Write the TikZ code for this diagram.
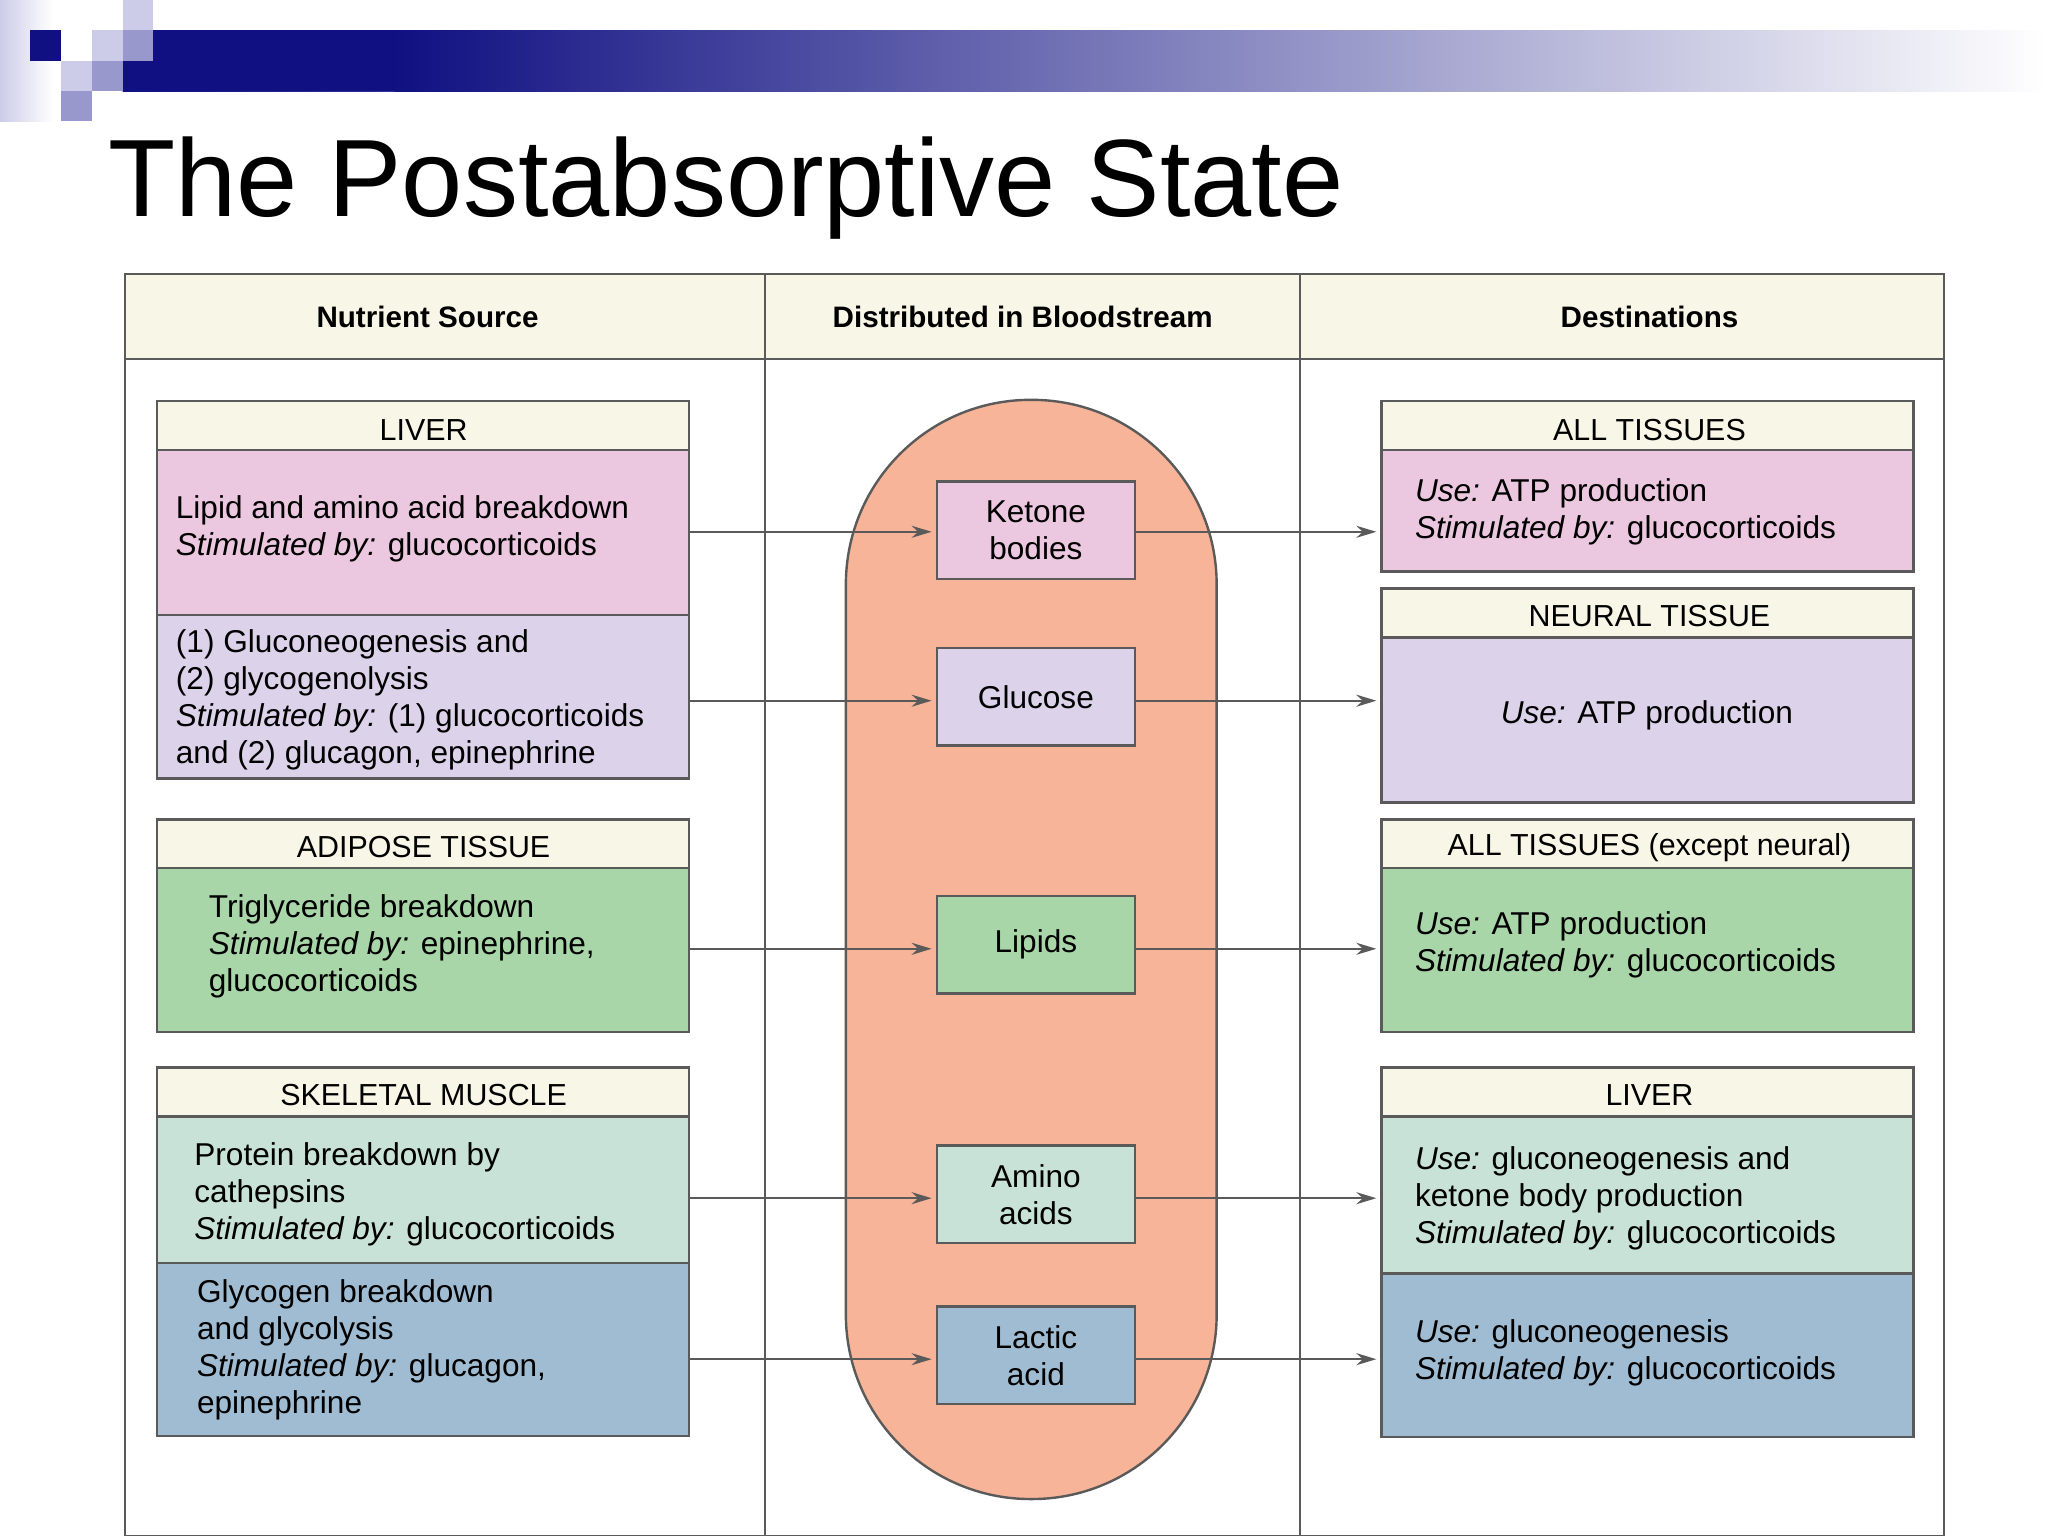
\documentclass[tikz,border=0pt]{standalone}
\usepackage{fontspec}
\setmainfont{Liberation Sans}
\usetikzlibrary{arrows.meta}
\definecolor{navy}{RGB}{16,16,130}
\definecolor{lmed}{RGB}{152,152,204}
\definecolor{llight}{RGB}{204,204,232}
\definecolor{cream}{RGB}{248,246,230}
\definecolor{cpink}{RGB}{236,200,224}
\definecolor{cpurp}{RGB}{220,210,234}
\definecolor{cgreen}{RGB}{168,214,168}
\definecolor{cmint}{RGB}{200,226,216}
\definecolor{cblue}{RGB}{160,188,210}
\definecolor{salmon}{RGB}{248,180,152}
\definecolor{edge}{RGB}{90,90,90}
\begin{document}
\begin{tikzpicture}[x=0.6598pt,y=-0.6598pt,
  bx/.style={draw=edge,line width=1.2pt},
  body/.style={font=\fontsize{15.8}{18.5}\selectfont,align=left,inner sep=0pt},
  hd/.style={font=\fontsize{15.2}{18}\selectfont,inner sep=0pt},
  colhd/.style={font=\bfseries\fontsize{14.8}{18}\selectfont,inner sep=0pt},
  arr/.style={draw=edge,line width=1pt,-{Stealth[length=10pt,width=6pt]}}]
\useasboundingbox (0,0) rectangle (1552,1164);
\fill[white] (0,0) rectangle (1552,1164);
% banner
\shade[left color=llight,right color=white] (0,0) rectangle (40,92);
\shade[left color=navy,right color=white] (93,23) rectangle (1552,69);
\fill[navy] (93,23) rectangle (300,69);
\shade[left color=navy,right color=white!0!navy!60!white] (300,23) rectangle (301,69);
\shade[left color=navy,right color=white] (299,23) rectangle (1552,69);
\fill[navy] (23,23) rectangle (46,46);
\fill[llight] (93,0) rectangle (116,23);
\fill[llight] (70,23) rectangle (93,46);
\fill[lmed] (93,23) rectangle (116,46);
\fill[llight] (46,46) rectangle (70,69);
\fill[lmed] (70,46) rectangle (93,69);
\fill[lmed] (46,69) rectangle (70,92);
\node[anchor=base west,inner sep=0pt,font=\fontsize{55}{60}\selectfont] (title) at (82,164) {The Postabsorptive State};
% table
\fill[cream] (95,208) rectangle (1473,272);
\draw[edge,line width=1pt] (95,208) rectangle (1473,1164);
\draw[edge,line width=1pt] (95,272) -- (1473,272);
\draw[edge,line width=1pt] (580,208) -- (580,1164);
\draw[edge,line width=1pt] (985,208) -- (985,1164);
\node[colhd] (h1) at (324,240) {Nutrient Source};
\node[colhd] (h2) at (775,240) {Distributed in Bloodstream};
\node[colhd] (h3) at (1250,240) {Destinations};
% center pill
\draw[bx,fill=salmon,rounded corners=140*0.6598pt] (641,303) rectangle (922,1136);
% left boxes
\draw[bx,fill=cream] (119,304) rectangle (522,341);
\node[hd] (lh1) at (321,326) {LIVER};
\draw[bx,fill=cpink] (119,341) rectangle (522,466);
\draw[bx,fill=cpurp] (119,466) rectangle (522,590);
\node[body,anchor=west] (l1) at (133,401) {Lipid and amino acid breakdown\\\textit{Stimulated by:} glucocorticoids};
\node[body,anchor=west] (l2) at (133,530) {(1) Gluconeogenesis and\\(2) glycogenolysis\\\textit{Stimulated by:} (1) glucocorticoids\\and (2) glucagon, epinephrine};
\draw[bx,fill=cream] (119,621) rectangle (522,658);
\node[hd] (lh2) at (321,642) {ADIPOSE TISSUE};
\draw[bx,fill=cgreen] (119,658) rectangle (522,782);
\node[body,anchor=west] (l3) at (158,717) {Triglyceride breakdown\\\textit{Stimulated by:} epinephrine,\\glucocorticoids};
\draw[bx,fill=cream] (119,809) rectangle (522,846);
\node[hd] (lh3) at (321,830) {SKELETAL MUSCLE};
\draw[bx,fill=cmint] (119,846) rectangle (522,957);
\draw[bx,fill=cblue] (119,957) rectangle (522,1088);
\node[body,anchor=west] (l4) at (147,905) {Protein breakdown by\\cathepsins\\\textit{Stimulated by:} glucocorticoids};
\node[body,anchor=west] (l5) at (149,1023) {Glycogen breakdown\\and glycolysis\\\textit{Stimulated by:} glucagon,\\epinephrine};
% right boxes
\draw[bx,fill=cream] (1047,304) rectangle (1450,341);
\node[hd] (rh1) at (1250,326) {ALL TISSUES};
\draw[bx,fill=cpink] (1047,341) rectangle (1450,433);
\node[body,anchor=west] (r1) at (1072,388) {\textit{Use:} ATP production\\\textit{Stimulated by:} glucocorticoids};
\draw[bx,fill=cream] (1047,446) rectangle (1450,483);
\node[hd] (rh2) at (1250,467) {NEURAL TISSUE};
\draw[bx,fill=cpurp] (1047,483) rectangle (1450,608);
\node[body] (r2) at (1248,542) {\textit{Use:} ATP production};
\draw[bx,fill=cream] (1047,621) rectangle (1450,658);
\node[hd] (rh3) at (1250,642) {ALL TISSUES (except neural)};
\draw[bx,fill=cgreen] (1047,658) rectangle (1450,782);
\node[body,anchor=west] (r3) at (1072,716) {\textit{Use:} ATP production\\\textit{Stimulated by:} glucocorticoids};
\draw[bx,fill=cream] (1047,809) rectangle (1450,846);
\node[hd] (rh4) at (1250,830) {LIVER};
\draw[bx,fill=cmint] (1047,846) rectangle (1450,965);
\draw[bx,fill=cblue] (1047,965) rectangle (1450,1089);
\node[body,anchor=west] (r4) at (1072,908) {\textit{Use:} gluconeogenesis and\\ketone body production\\\textit{Stimulated by:} glucocorticoids};
\node[body,anchor=west] (r5) at (1072,1025) {\textit{Use:} gluconeogenesis\\\textit{Stimulated by:} glucocorticoids};
% center boxes
\tikzset{cb/.style={bx,body,align=center,minimum width=150*0.6598pt,minimum height=74*0.6598pt}}
\node[cb,fill=cpink] (ket) at (785,402) {Ketone\\bodies};
\node[cb,fill=cpurp] (glu) at (785,528) {Glucose};
\node[cb,fill=cgreen] (lip) at (785,716) {Lipids};
\node[cb,fill=cmint] (ami) at (785,905) {Amino\\acids};
\node[cb,fill=cblue] (lac) at (785,1027) {Lactic\\acid};
% arrow coordinates
\foreach \n/\y in {a/403,b/531,c/719,d/908,e/1030}{
  \coordinate (L\n) at (522,\y); \coordinate (M\n) at (706,\y);
  \coordinate (N\n) at (860,\y); \coordinate (R\n) at (1043,\y);
  \draw[arr] (L\n) -- (M\n); \draw[arr] (N\n) -- (R\n);}
\end{tikzpicture}
\end{document}
